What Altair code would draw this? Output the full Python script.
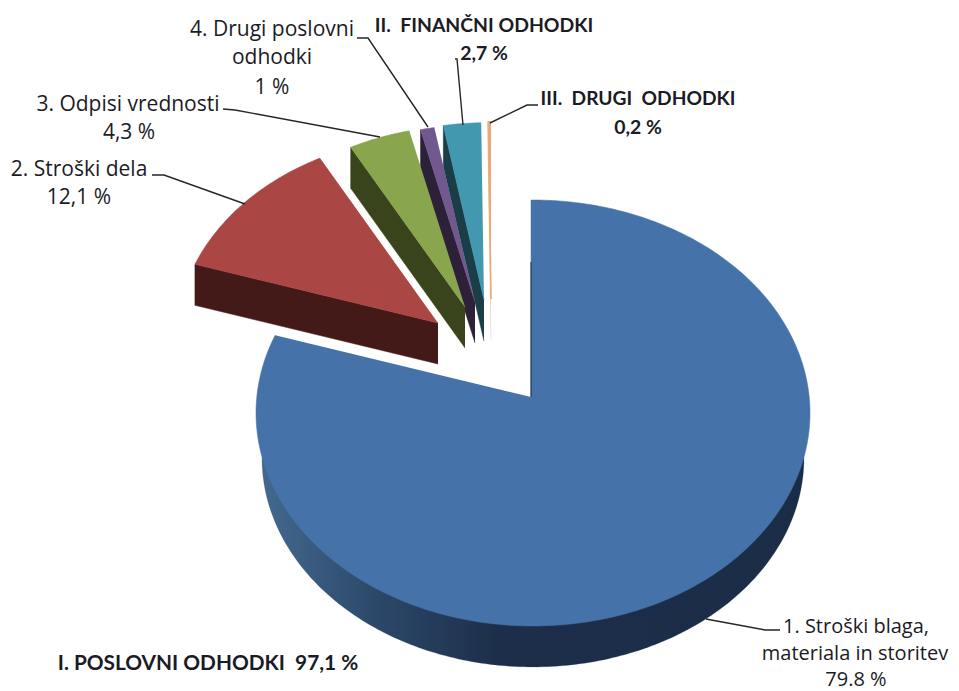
import math
import altair as alt
import pandas as pd

# --- chart values
names = ["1. Stroški blaga, materiala in storitev", "2. Stroški dela", "3. Odpisi vrednosti",
         "4. Drugi poslovni odhodki", "II. FINANČNI ODHODKI", "III. DRUGI ODHODKI"]
shares = [79.8, 12.1, 4.3, 1.0, 2.7, 0.2]

# --- styles and layout (page pixels)
top_colors = ["#4573A9", "#AA4643", "#89A54E", "#71588F", "#4198AF", "#EDA873"]
side_colors = ["#1A2C46", "#431A17", "#3A441C", "#2C2138", "#1A3E47", "#D9D2C8"]
apexes = [(531, 397), (438, 323), (465, 307), (475, 302), (484, 300), (491, 299)]
reach = [1.0, 0.95, 0.92, 0.90, 0.90, 0.90]
DEPTH = 41
CX, CY, RX, RY, SQUASH = 533, 413, 277, 213, 0.79
BX, BY, BRX, BRY = 533, 458, 271, 209

leader_points = [
    [(706, 619), (765, 630), (780, 630)],
    [(152, 175), (164, 175), (245, 204)],
    [(223, 109), (235, 110), (380, 137)],
    [(357, 38), (368, 38), (428, 127)],
    [(455, 59), (457, 59), (463, 125)],
    [(538, 105), (527, 105), (490, 123)],
]
regular_labels = [
    ("2. Stroški dela", 79, 170), ("12,1 %", 79, 198),
    ("3. Odpisi vrednosti", 128, 105), ("4,3 %", 129, 133),
    ("4. Drugi poslovni", 272, 30), ("odhodki", 272, 58), ("1 %", 272, 88),
]
corner_labels = [
    ("1. Stroški blaga,", 856, 627), ("materiala in storitev", 855, 654), ("79.8 %", 856, 680),
]
bold_labels = [
    ("II.\u00a0 FINANČNI ODHODKI", 484, 26, 19.4), ("2,7 %", 484, 54, 19.4),
    ("III.\u00a0 DRUGI\u00a0 ODHODKI", 638, 99, 19.2), ("0,2 %", 638, 128, 19.4),
    ("I. POSLOVNI ODHODKI\u00a0 97,1 %", 208, 664, 20.8),
]


def rim(theta_deg, k=0):
    """Point where the ray at this pie angle leaves the (tilted) pie disc."""
    t = math.radians(theta_deg)
    dx, dy = math.sin(t), -math.cos(t) * SQUASH
    ax, ay = apexes[0][0] - CX, apexes[0][1] - CY
    a = (dx / RX) ** 2 + (dy / RY) ** 2
    b = 2 * (ax * dx / RX ** 2 + ay * dy / RY ** 2)
    c = (ax / RX) ** 2 + (ay / RY) ** 2 - 1
    s = (-b + math.sqrt(b * b - 4 * a * c)) / (2 * a)
    return apexes[k][0] + dx * s * reach[k], apexes[k][1] + dy * s * reach[k]


total = sum(shares)
starts = []
acc = 0.0
for v in shares:
    starts.append(acc / total * 360)
    acc += v


def angles(a0, a1, step=1.0):
    n = max(2, int(abs(a1 - a0) / step) + 1)
    return [a0 + (a1 - a0) * i / (n - 1) for i in range(n)]


def poly(pts):
    return pd.DataFrame({"x": [p[0] for p in pts], "y": [p[1] for p in pts], "o": range(len(pts))})


x_enc = alt.X("x:Q", scale=alt.Scale(domain=[8, 951], nice=False, zero=False), axis=None)
y_enc = alt.Y("y:Q", scale=alt.Scale(domain=[691, 8], nice=False, zero=False), axis=None)


def shape(pts, fill, stroke=None, sw=0.5):
    return alt.Chart(poly(pts)).mark_line(
        fill=fill, stroke=stroke or (fill if isinstance(fill, str) else "#22344f"),
        strokeWidth=sw, strokeJoin="round", interpolate="linear"
    ).encode(x=x_enc, y=y_enc, order="o:Q")


layers = []

# big slice: lower rim of the disc's underside, then its top face
wall = [(BX + BRX * math.sin(math.radians(a)), BY - BRY * math.cos(math.radians(a))) for a in angles(90, 270)]
grad = alt.LinearGradient(gradient="linear", x1=0, x2=1, y1=0, y2=0, stops=[
    alt.GradientStop(offset=0, color="#43698F"),
    alt.GradientStop(offset=0.22, color="#2B4768"),
    alt.GradientStop(offset=0.44, color="#1C2E49"),
    alt.GradientStop(offset=1, color="#1A2C46"),
])
layers.append(shape(wall, grad, stroke="#2A4364", sw=0.2))
big_end = starts[1]
top = [apexes[0]] + [rim(a) for a in angles(0, big_end)]
layers.append(shape(top, top_colors[0]))
layers.append(alt.Chart(poly([(531, 262), apexes[0]])).mark_line(stroke="#1A2C46", strokeWidth=1).encode(
    x=x_enc, y=y_enc, order="o:Q"))

# exploded slices, right to left so that each one lies over its neighbour
for k in range(5, 0, -1):
    a0 = starts[k]
    a1 = starts[k] + shares[k] / total * 360
    corner = rim(a0, k)
    ax, ay = apexes[k]
    side = [(ax, ay), corner, (corner[0], corner[1] + DEPTH), (ax, ay + DEPTH)]
    layers.append(shape(side, side_colors[k]))
    face = [(ax, ay)] + [rim(a, k) for a in angles(a0, a1)]
    layers.append(shape(face, top_colors[k], sw=1.6 if k == 5 else 0.5))

# leader lines
for pts in leader_points:
    layers.append(alt.Chart(poly(pts)).mark_line(stroke="#262626", strokeWidth=1.4).encode(
        x=x_enc, y=y_enc, order="o:Q"))

# regular labels
for rows, size in ((regular_labels, 21), (corner_labels, 20)):
    layers.append(alt.Chart(pd.DataFrame(rows, columns=["t", "x", "y"])).mark_text(
        font="Open Sans", fontSize=size, color="#1B1B26", align="center", baseline="middle"
    ).encode(x=x_enc, y=y_enc, text="t:N"))

# bold labels
for row in bold_labels:
    df = pd.DataFrame([row[:3]], columns=["t", "x", "y"])
    layers.append(alt.Chart(df).mark_text(
        font="Lato", fontSize=row[3], fontWeight="bold", color="#1B1B26",
        align="center", baseline="middle"
    ).encode(x=x_enc, y=y_enc, text="t:N"))

chart = alt.layer(*layers).properties(
    width=943, height=683, padding=0,
    autosize=alt.AutoSizeParams(type="none"),
    background="white",
).configure_view(stroke=None)

chart.save("out.html", embed_options={"renderer": "svg", "actions": False})
